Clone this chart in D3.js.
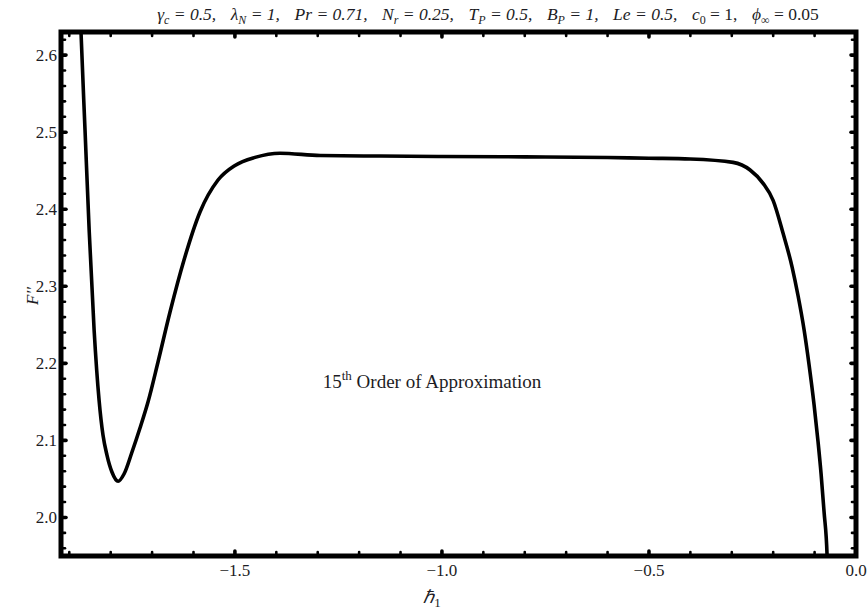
<!DOCTYPE html>
<html>
<head>
<meta charset="utf-8">
<script src="https://cdn.jsdelivr.net/npm/d3@7"></script>
<style>
  body { margin: 0; background: #fff; }
  svg { display: block; }
  text { font-family: "Liberation Serif", "Times New Roman", serif; fill: #1c1c24; }
</style>
</head>
<body>
<svg id="chart" width="868" height="615"></svg>
<script>
// Convergence-control curve F''(0) against the auxiliary parameter ħ1
const hValues = [-1.8760, -1.8717, -1.8620, -1.8520, -1.8400, -1.8280, -1.8186, -1.8090, -1.7970, -1.7820,
                 -1.7678, -1.7485, -1.7292, -1.7099, -1.6857, -1.6567, -1.6229, -1.5843, -1.5408, -1.4997,
                 -1.4514, -1.3910, -1.2940, -1.1500, -1.0000, -0.8000, -0.6000, -0.5000, -0.4007, -0.2968,
                 -0.2558, -0.2244, -0.2002, -0.1761, -0.1543, -0.1398, -0.1253, -0.1133, -0.1012, -0.0916,
                 -0.0843, -0.0771, -0.0698, -0.0690];
const fValues = [2.700, 2.630, 2.503, 2.373, 2.243, 2.152, 2.107, 2.081, 2.059, 2.047,
                 2.0564, 2.0850, 2.1161, 2.1498, 2.2018, 2.2666, 2.3341, 2.3964, 2.4379, 2.4569,
                 2.4673, 2.4727, 2.4697, 2.469, 2.4685, 2.468, 2.4672, 2.4662, 2.4652, 2.4608,
                 2.4509, 2.4336, 2.4115, 2.3687, 2.3250, 2.2874, 2.2433, 2.1979, 2.1460, 2.0979,
                 2.0564, 2.0071, 1.950, 1.920];

const xMajorTicks = [-1.5, -1.0, -0.5, 0.0];
const yMajorTicks = [2.0, 2.1, 2.2, 2.3, 2.4, 2.5, 2.6];
const xDomain = [-1.92, 0.0];
const yDomain = [1.95, 2.63];

const svg = d3.select("#chart");
const plotLeft = 61, plotRight = 856, plotTop = 32, plotBottom = 556;

const x = d3.scaleLinear().domain(xDomain).range([plotLeft, plotRight]);
const y = d3.scaleLinear().domain(yDomain).range([plotBottom, plotTop]);

// minor ticks every 0.1 on x and 0.02 on y
const xMinor = d3.range(-1.9, 0.0001, 0.1).map(v => +v.toFixed(2))
  .filter(v => !xMajorTicks.some(m => Math.abs(m - v) < 1e-6));
const yMinor = d3.range(1.96, 2.6301, 0.02).map(v => +v.toFixed(2))
  .filter(v => !yMajorTicks.some(m => Math.abs(m - v) < 1e-6));

const fmt = d3.format(".1f");

// plot curve, clipped to the frame
svg.append("clipPath").attr("id", "plotClip")
  .append("rect").attr("x", plotLeft).attr("y", plotTop)
  .attr("width", plotRight - plotLeft).attr("height", plotBottom - plotTop);

const pts = hValues.map((h, i) => [h, fValues[i]]);
svg.append("path")
  .datum(pts)
  .attr("clip-path", "url(#plotClip)")
  .attr("fill", "none")
  .attr("stroke", "#000")
  .attr("stroke-width", 3.6)
  .attr("stroke-linejoin", "round")
  .attr("d", d3.line().x(d => x(d[0])).y(d => y(d[1])).curve(d3.curveMonotoneX));

// frame
svg.append("rect")
  .attr("x", plotLeft).attr("y", plotTop)
  .attr("width", plotRight - plotLeft).attr("height", plotBottom - plotTop)
  .attr("fill", "none").attr("stroke", "#000").attr("stroke-width", 5);

// tick marks on all four sides, pointing inward
const tickG = svg.append("g").attr("stroke", "#000").attr("stroke-linecap", "round");
function xTicks(vals, len, w) {
  vals.forEach(v => {
    tickG.append("line").attr("x1", x(v)).attr("x2", x(v))
      .attr("y1", plotBottom).attr("y2", plotBottom - len).attr("stroke-width", w);
    tickG.append("line").attr("x1", x(v)).attr("x2", x(v))
      .attr("y1", plotTop).attr("y2", plotTop + len).attr("stroke-width", w);
  });
}
function yTicks(vals, len, w) {
  vals.forEach(v => {
    tickG.append("line").attr("y1", y(v)).attr("y2", y(v))
      .attr("x1", plotLeft).attr("x2", plotLeft + len).attr("stroke-width", w);
    tickG.append("line").attr("y1", y(v)).attr("y2", y(v))
      .attr("x1", plotRight).attr("x2", plotRight - len).attr("stroke-width", w);
  });
}
xTicks(xMajorTicks, 5, 3.6);
xTicks(xMinor, 4, 2.6);
yTicks(yMajorTicks, 5, 3.6);
yTicks(yMinor, 4, 2.6);

// tick labels
svg.append("g").selectAll("text").data(xMajorTicks).join("text")
  .attr("x", d => x(d)).attr("y", 576)
  .attr("text-anchor", "middle").attr("font-size", 17)
  .text(d => fmt(d));
svg.append("g").selectAll("text").data(yMajorTicks).join("text")
  .attr("x", 57).attr("y", d => y(d)).attr("dy", "0.34em")
  .attr("text-anchor", "end").attr("font-size", 17)
  .text(d => fmt(d));

// axis titles
const xl = svg.append("text").attr("x", 432).attr("y", 603)
  .attr("text-anchor", "middle").attr("font-size", 18);
xl.append("tspan").attr("font-style", "italic").text("\u210F");
xl.append("tspan").attr("font-size", 13).attr("dy", 4).text("1");

svg.append("text")
  .attr("transform", "translate(38,296) rotate(-90)")
  .attr("text-anchor", "middle").attr("font-size", 17).attr("font-style", "italic")
  .text("F\u2032\u2032");

// parameter header
const title = svg.append("text").attr("x", 488).attr("y", 20)
  .attr("text-anchor", "middle").attr("font-size", 17.5)
  .attr("font-style", "italic").style("white-space", "pre");
const parts = [
  ["γ", "c", " = 0.5,"],
  ["λ", "N", " = 1,"],
  ["Pr = 0.71,", null, null],
  ["N", "r", " = 0.25,"],
  ["T", "P", " = 0.5,"],
  ["B", "P", " = 1,"],
  ["Le = 0.5,", null, null],
  ["c", "0", " = 1,", true],
  ["ϕ", "∞", " = 0.05", true]
];
parts.forEach((p, i) => {
  const head = title.append("tspan").text(p[0]);
  if (i > 0) head.attr("dx", 14.5);
  if (p[1] !== null) {
    title.append("tspan").attr("font-size", 12).attr("dy", 4)
      .attr("font-style", p[3] ? "normal" : "italic").text(p[1]);
    title.append("tspan").attr("dy", -4)
      .attr("font-style", p[3] ? "normal" : "italic").text(p[2]);
  }
});

// annotation inside the plot
const note = svg.append("text").attr("x", 432).attr("y", 388)
  .attr("text-anchor", "middle").attr("font-size", 19).style("white-space", "pre");
note.append("tspan").text("15");
note.append("tspan").attr("font-size", 13).attr("dy", -8).text("th");
note.append("tspan").attr("dy", 8).text(" Order of Approximation");
</script>
</body>
</html>
